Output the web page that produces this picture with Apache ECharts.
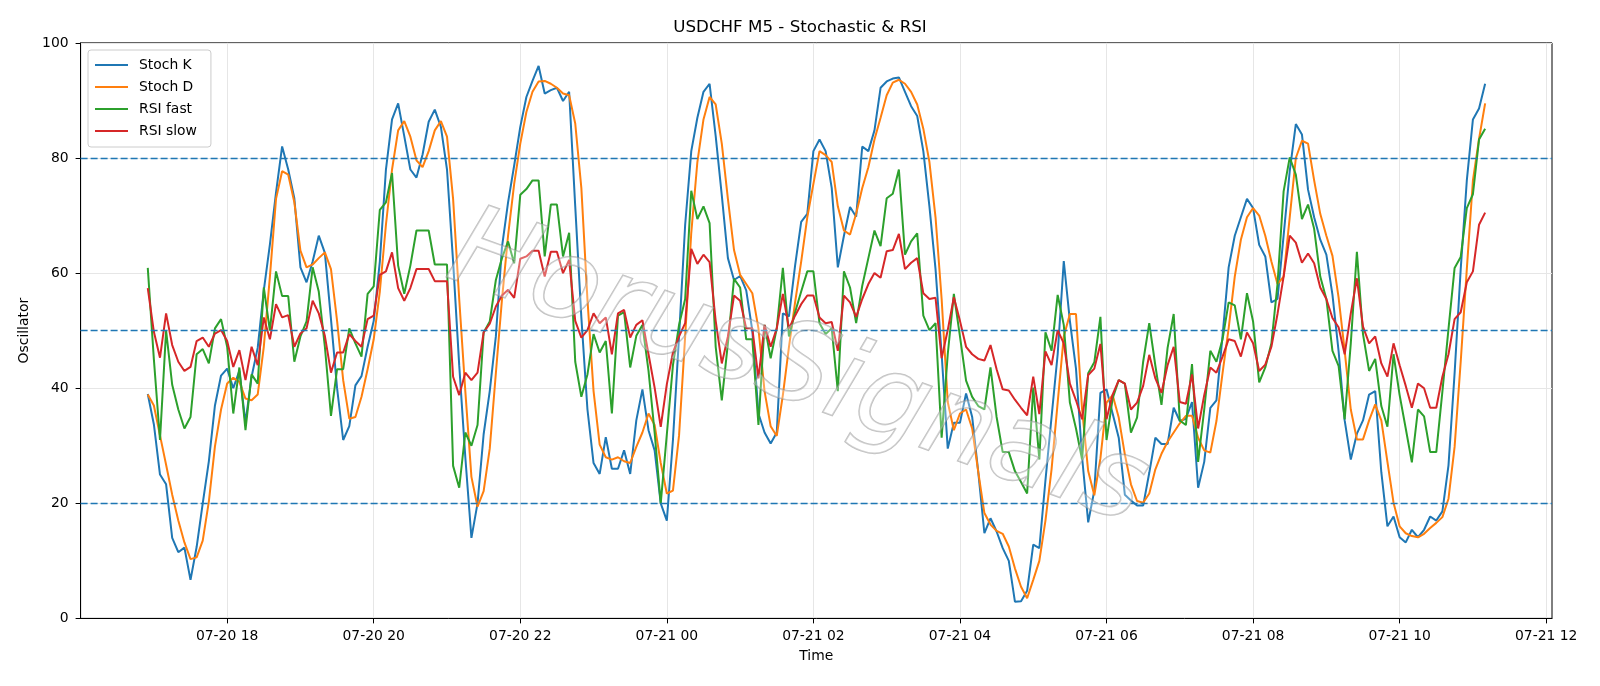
<!DOCTYPE html>
<html>
<head>
<meta charset="utf-8">
<title>USDCHF M5 - Stochastic & RSI</title>
<script src="https://cdn.jsdelivr.net/npm/echarts@6/dist/echarts.min.js"></script>
<style>
  html, body { margin: 0; padding: 0; background: #fff; }
  #chart { width: 1600px; height: 686px; }
</style>
</head>
<body>
<div id="chart"></div>
<script>
// M5 bars, minutes counted from 07-20 00:00 (first bar 16:55, last 07-21 11:10)
const startMinute = 16 * 60 + 55;
const stepMinutes = 5;

const stochK = [
  39, 33.7, 25, 23.3, 14, 11.5, 12.3, 6.7, 12.4, 20,
  27.3, 37, 42.2, 43.4, 40, 43, 34, 42, 47, 57,
  65, 74, 82, 78, 73, 61, 58.4, 62, 66.5, 63.5,
  52, 40, 31, 33.4, 40.5, 42.1, 47.2, 51.7, 62, 78,
  86.7, 89.5, 83.8, 78, 76.6, 80.6, 86.3, 88.4, 85.4, 78,
  62, 44, 28, 14, 20, 32, 39.5, 49, 64.5, 72.3,
  78.7, 85.4, 90.6, 93.4, 96, 91.2, 91.8, 92.2, 89.9, 91.5,
  71.6, 52.3, 36.3, 27, 25.1, 31.5, 26, 26, 29.2, 25.1,
  34.4, 39.8, 32.7, 29.2, 20, 17, 31, 49, 68.4, 81.2,
  87, 91.5, 92.9, 83.8, 73.5, 62.6, 58.8, 59.5, 57, 50,
  35.6, 32.3, 30.4, 32.3, 53, 52.5, 61.3, 68.9, 70.3, 81.2,
  83.2, 81.2, 74.8, 61, 66.5, 71.5, 69.8, 82, 81.2, 84.8,
  92.2, 93.3, 93.8, 94, 91.5, 89, 87.3, 81.2, 71.6, 60.7,
  45.9, 29.5, 34, 34, 39.1, 35, 25.4, 14.8, 17.4, 15.1,
  12.2, 10, 2.9, 3, 4.8, 12.8, 12.2, 24, 35, 45.9,
  62.1, 51.7, 43.4, 28, 16.7, 22.2, 39.2, 39.8, 35.6, 31.4,
  21.5, 20.5, 19.6, 19.6, 25.3, 31.4, 30.3, 30.3, 36.6, 34.3,
  34.7, 37.6, 22.7, 27.2, 36.6, 37.9, 49.1, 61, 66.5, 69.7,
  72.9, 71.3, 64.9, 62.9, 54.9, 55.5, 66.5, 77.7, 85.9, 84.1,
  74.5, 69.7, 65.8, 63.2, 56.2, 46.5, 34.4, 27.6, 32.1, 34.4,
  38.9, 39.5, 25.4, 16, 17.7, 14.1, 13.2, 15.4, 14.1, 15.4,
  17.7, 17, 18.6, 26.6, 42.6, 60.7, 76.1, 86.7, 88.6, 92.9
];

const stochD = [
  38.9, 37, 31.8, 26.7, 21.5, 17, 13.2, 10.3, 10.6, 13.5,
  20.3, 29.9, 36.3, 40.8, 41.8, 41.1, 38.2, 37.9, 38.9, 47.2,
  59.4, 72.9, 77.7, 77.1, 72.3, 63.9, 61, 61.5, 62.6, 63.6,
  60.7, 51.7, 41.4, 34.7, 35, 38.5, 43.3, 48.5, 56.8, 68.4,
  78, 84.8, 86.4, 83.7, 79.6, 78.4, 81.2, 84.8, 86.4, 83.7,
  72.9, 55.5, 39.5, 24.6, 19.4, 22.1, 29.5, 42.6, 55.4, 66.5,
  75.5, 82.5, 88, 91.5, 93.3, 93.4, 92.9, 92.2, 91.2, 90.9,
  86, 74.8, 55.4, 39.5, 30.2, 28, 27.6, 28, 27.3, 27,
  29.8, 32.3, 35.6, 33.6, 27, 21.7, 22.2, 31.8, 49, 67,
  79.3, 86.7, 90.6, 89.3, 82.5, 72.9, 64, 59.7, 58.1, 56.5,
  50.4, 39.5, 33.4, 31.7, 38.8, 47.2, 54.9, 62, 69.7, 75.5,
  81.2, 80.5, 79.3, 71.6, 67.4, 66.7, 70.3, 74.8, 78.4, 83.2,
  87, 90.9, 93.1, 93.6, 92.9, 91.5, 89.3, 85.1, 79.3, 69.7,
  55.5, 37.6, 32.7, 35.6, 36.3, 33, 25.4, 18.3, 16.3, 15.2,
  14.7, 12.5, 8.7, 5.5, 3.5, 6.7, 10, 17, 25.9, 37.5,
  49, 52.9, 52.9, 36.3, 25.6, 21.4, 27.8, 37.5, 38.8, 34.9,
  28.5, 23.3, 20.4, 20.1, 21.7, 25.9, 28.6, 30.7, 32.3, 33.9,
  35.2, 35.2, 31.4, 29.2, 28.8, 34.3, 42.6, 50.4, 59.4, 65.8,
  69.7, 71.3, 70, 66.5, 62, 58.1, 59.4, 69.7, 80, 83,
  82.5, 76.1, 70.3, 66.5, 63, 55.8, 46.5, 36.3, 31.1, 31.1,
  34.4, 37.2, 34.4, 27.2, 20.1, 16, 14.8, 14.3, 14.1, 14.7,
  15.7, 16.6, 17.6, 20.8, 29.8, 44.6, 60.7, 76.1, 83.3, 89.5
];

const rsiFast = [
  60.9, 45, 31, 50, 40.6, 36.3, 33, 35, 45.9, 46.8,
  44.3, 50.4, 52, 47.2, 35.6, 43.6, 32.7, 42.4, 40.8, 57.5,
  50, 60.3, 56, 56, 44.6, 49, 51.6, 61, 56.8, 47.2,
  35.2, 43.3, 43.3, 50.4, 47.8, 45.5, 56.4, 57.7, 71, 72.3,
  77.4, 61.3, 56.4, 61.3, 67.4, 67.4, 67.4, 61.5, 61.5, 61.5,
  26.5, 22.7, 32.3, 30, 33.6, 49.7, 51.6, 58.8, 62.6, 65.5,
  61.7, 73.6, 74.6, 76.1, 76.1, 62.9, 71.9, 71.9, 62.9, 67,
  44.6, 38.5, 42.4, 49.4, 46.2, 48.2, 35.6, 52.6, 53.2, 43.6,
  49.1, 51, 43, 32.3, 20, 32, 44, 51, 55.5, 74.3,
  69.4, 71.6, 68.7, 47.2, 37.9, 47.8, 59, 57.5, 48.5, 48.5,
  33.6, 51, 45.2, 50.4, 60.9, 49, 53.2, 56.8, 60.3, 60.3,
  51.3, 49.4, 50.4, 39.5, 60.3, 57.5, 51.3, 57.8, 62.6, 67.4,
  64.7, 73, 73.8, 78, 63.2, 65.5, 66.9, 52.6, 50.1, 51.3,
  31.4, 45.9, 56.4, 49, 41.3, 38.5, 36.9, 36.3, 43.6, 35,
  28.9, 28.9, 25.6, 23.7, 21.7, 40.1, 27.6, 49.7, 46.5, 56.2,
  51, 37.5, 33, 27.6, 42.6, 44.5, 52.4, 31, 38.2, 41.4,
  40.8, 32.3, 34.9, 44.6, 51.3, 43.9, 37.1, 47, 52.9, 34.4,
  33.6, 44.2, 27.2, 36.3, 46.5, 44.6, 48.5, 54.9, 54.4, 48.5,
  56.5, 51.6, 41, 43.6, 47.8, 58.1, 74.2, 80.1, 77.1, 69.4,
  71.9, 67.7, 59.4, 55.5, 46.5, 43.9, 34.6, 47.8, 63.7, 49.4,
  43, 45.1, 36.9, 33.3, 45.9, 38.8, 33, 27.1, 36.3, 35.1,
  28.9, 28.9, 39.4, 50.3, 60.9, 62.8, 71.3, 73.7, 83.2, 85.1
];

const rsiSlow = [
  57.4, 49.8, 45.3, 53, 47.5, 44.6, 43, 43.7, 48.2, 48.8,
  47.2, 49.5, 50.1, 48.2, 43.7, 46.6, 41.4, 47.2, 44, 52.3,
  48.5, 54.6, 52.3, 52.7, 47.2, 49.5, 50.4, 55.2, 53, 49.1,
  42.7, 46.2, 46.2, 49.4, 48.2, 47.2, 52, 52.6, 59.7, 60.3,
  63.6, 57.4, 55.2, 57.4, 60.7, 60.7, 60.7, 58.6, 58.6, 58.6,
  42, 38.8, 42.7, 41.4, 42.7, 49.7, 51.2, 54.2, 56.1, 57.1,
  55.7, 62.5, 62.9, 63.9, 63.9, 59.4, 63.7, 63.7, 60, 62.3,
  51.7, 48.8, 50.1, 53, 51.3, 52.3, 45.9, 53, 53.6, 48.8,
  51, 51.8, 45.9, 40.1, 33.3, 40.7, 46.2, 49, 51.3, 64.2,
  61.6, 63.2, 61.9, 51.7, 44.3, 49, 56.1, 55.2, 50.4, 50.4,
  41.7, 51, 47.2, 50.4, 56.4, 50.4, 52.6, 54.6, 56.1, 56.1,
  52.3, 51.3, 51.5, 46.5, 56.1, 54.9, 52.4, 55.5, 58.1, 60,
  59.2, 63.8, 64, 66.8, 60.7, 61.8, 62.6, 56.5, 55.5, 55.7,
  45.2, 50.1, 55.8, 51.7, 47.2, 45.9, 45.1, 44.8, 47.5, 43.3,
  39.8, 39.6, 38, 36.6, 35.3, 42, 35.5, 46.4, 44, 50.1,
  47.8, 40.8, 37.9, 34.6, 42.3, 43.4, 47.7, 34.6, 38.9, 41.4,
  40.8, 36.3, 37.5, 40.4, 45.8, 41.7, 39.2, 44, 47.2, 37.6,
  37.3, 42.4, 33, 38.8, 43.6, 42.7, 45.5, 48.5, 48.2, 45.5,
  49.7, 47.8, 43, 44.1, 47.2, 52.9, 59.4, 66.5, 65.3, 61.8,
  63.4, 61.7, 57.5, 55.5, 52.2, 50.6, 45.9, 53, 59.1, 50.7,
  47.8, 49, 44.3, 42, 47.8, 44, 40.4, 36.6, 40.8, 40,
  36.6, 36.6, 42, 45.9, 52, 53.2, 58.4, 60.3, 68.4, 70.5
];

const levels = [80, 50, 20];
// tick positions (minutes from 07-20 00:00): 18:00 ... 07-21 12:00
const xTicks = [1080, 1200, 1320, 1440, 1560, 1680, 1800, 1920, 2040, 2160];

const times = stochK.map((_, i) => startMinute + i * stepMinutes);
const pair = arr => arr.map((v, i) => [times[i], v]);

// matplotlib-like 5% margin on each side
const span = times[times.length - 1] - times[0];
const xMin = 960;                       // 16:00, multiple of the 120 min interval
const xMax = times[times.length - 1] + span * 0.05;

function timeLabel(v) {
  const day = v >= 1440 ? '21' : '20';
  const h = Math.round(v / 60) % 24;
  return '07-' + day + ' ' + (h < 10 ? '0' + h : h);
}

const FONT = 'DejaVu Sans';
const colors = ['#1f77b4', '#ff7f0e', '#2ca02c', '#d62728'];

const chart = echarts.init(document.getElementById('chart'), null, { renderer: 'canvas' });

function lineSeries(name, arr, color, extra) {
  return Object.assign({
    name: name,
    type: 'line',
    data: pair(arr),
    symbol: 'none',
    showSymbol: false,
    lineStyle: { color: color, width: 2 },
    itemStyle: { color: color },
    emphasis: { disabled: true },
    z: 3
  }, extra || {});
}

chart.setOption({
  animation: false,
  backgroundColor: '#ffffff',
  textStyle: { fontFamily: FONT },
  title: {
    text: 'USDCHF M5 - Stochastic & RSI',
    left: 'center',
    top: 14,
    textStyle: { fontFamily: FONT, fontSize: 16.7, fontWeight: 'normal', color: '#000' }
  },
  legend: {
    orient: 'vertical',
    left: 88,
    top: 50,
    padding: [7, 14, 8, 7],
    itemGap: 6,
    itemWidth: 33,
    itemHeight: 2,
    icon: 'rect',
    backgroundColor: 'rgba(255,255,255,0.8)',
    borderColor: '#cccccc',
    borderWidth: 1,
    borderRadius: 3,
    textStyle: { fontFamily: FONT, fontSize: 13.9, lineHeight: 16, color: '#000', padding: [0, 0, 0, 6] },
    data: ['Stoch K', 'Stoch D', 'RSI fast', 'RSI slow']
  },
  grid: {
    left: 80.6,
    right: 48,
    top: 42.9,
    bottom: 67.6,
    show: true,
    borderColor: '#000',
    borderWidth: 1,
    backgroundColor: 'transparent'
  },
  xAxis: {
    type: 'value',
    min: xMin,
    max: xMax,
    interval: 120,
    name: 'Time',
    nameLocation: 'middle',
    nameGap: 31,
    nameTextStyle: { fontFamily: FONT, fontSize: 13.9, color: '#000', verticalAlign: 'top' },
    axisLine: { show: true, onZero: false, lineStyle: { color: '#000', width: 1 } },
    axisTick: { show: true, length: 5, customValues: xTicks, lineStyle: { color: '#000', width: 1 } },
    axisLabel: {
      customValues: xTicks,
      margin: 11,
      fontFamily: FONT,
      fontSize: 13.9,
      color: '#000',
      formatter: timeLabel
    },
    splitLine: { show: true, lineStyle: { color: '#e6e6e6', width: 1 } }
  },
  yAxis: {
    type: 'value',
    min: 0,
    max: 100,
    interval: 20,
    name: 'Oscillator',
    nameLocation: 'middle',
    nameGap: 44,
    nameTextStyle: { fontFamily: FONT, fontSize: 13.9, color: '#000' },
    axisLine: { show: true, lineStyle: { color: '#000', width: 1 } },
    axisTick: { show: true, length: 5, lineStyle: { color: '#000', width: 1 } },
    axisLabel: { margin: 12, fontFamily: FONT, fontSize: 13.9, color: '#000' },
    splitLine: { show: true, lineStyle: { color: '#e6e6e6', width: 1 } }
  },
  graphic: [{
    type: 'text',
    x: 797,
    y: 372,
    rotation: -0.345,
    z: 50,
    silent: true,
    style: {
      text: 'HorusSignals',
      fontFamily: FONT,
      fontStyle: 'italic',
      fontSize: 112,
      align: 'center',
      verticalAlign: 'middle',
      fill: 'rgba(255,255,255,0.3)',
      stroke: 'rgba(140,140,140,0.55)',
      lineWidth: 1.6,
      shadowColor: 'rgba(0,0,0,0.25)',
      shadowBlur: 2,
      shadowOffsetX: 3,
      shadowOffsetY: 3
    }
  }],
  series: [
    lineSeries('Stoch K', stochK, colors[0], {
      markLine: {
        silent: true,
        symbol: 'none',
        label: { show: false },
        lineStyle: { color: '#1f77b4', type: [7, 3], width: 1.3 },
        data: levels.map(l => ({ yAxis: l }))
      }
    }),
    lineSeries('Stoch D', stochD, colors[1]),
    lineSeries('RSI fast', rsiFast, colors[2]),
    lineSeries('RSI slow', rsiSlow, colors[3])
  ]
});
</script>
</body>
</html>
